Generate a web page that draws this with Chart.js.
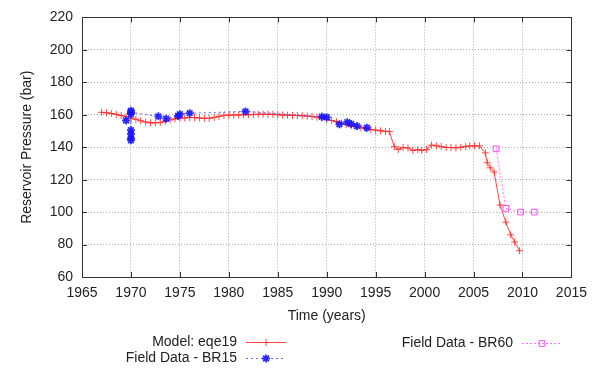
<!DOCTYPE html>
<html>
<head>
<meta charset="utf-8">
<script src="https://cdn.jsdelivr.net/npm/chart.js@4"></script>
<style>
  html, body { margin: 0; padding: 0; background: #fff; }
  #wrap { width: 595px; height: 369px; }
</style>
</head>
<body>
<div id="wrap"><canvas id="chart"></canvas></div>
<script>
// Model: eqe19 (red, + markers)
const modelYears = [
    1967.0, 1967.5, 1968.0, 1968.5, 1969.0, 1969.5, 1970.0, 1970.5, 1971.0, 1971.5,
    1972.0, 1972.5, 1973.0, 1973.5, 1974.0, 1974.5, 1975.0, 1975.5, 1976.0, 1976.5,
    1977.0, 1977.5, 1978.0, 1978.5, 1979.0, 1979.5, 1980.0, 1980.5, 1981.0, 1981.5,
    1982.0, 1982.5, 1983.0, 1983.5, 1984.0, 1984.5, 1985.0, 1985.5, 1986.0, 1986.5,
    1987.0, 1987.5, 1988.0, 1988.5, 1989.0, 1989.5, 1990.0, 1990.5, 1991.0, 1991.5,
    1992.0, 1992.5, 1993.0, 1993.5, 1994.0, 1994.5, 1995.0, 1995.5, 1996.0, 1996.4,
    1996.9, 1997.3, 1997.8, 1998.3, 1998.8, 1999.3, 1999.7, 2000.2, 2000.7, 2001.2,
    2001.7, 2002.2, 2002.7, 2003.2, 2003.7, 2004.2, 2004.6, 2005.1, 2005.6, 2006.2,
    2006.4, 2006.7, 2007.1, 2007.7, 2008.3, 2008.8, 2009.2, 2009.7
];
const modelPressure = [
    161.5, 161.2, 160.8, 160.2, 159.5, 158.8, 158.0, 157.2, 156.3, 155.5,
    155.0, 155.0, 155.3, 156.0, 156.8, 157.5, 158.0, 158.0, 158.3, 158.3,
    158.0, 157.8, 157.8, 158.3, 159.0, 159.6, 159.8, 159.8, 159.9, 160.0,
    160.0, 160.2, 160.3, 160.3, 160.3, 160.2, 160.0, 159.8, 159.7, 159.6,
    159.5, 159.4, 159.2, 158.9, 158.5, 158.0, 157.3, 156.5, 155.6, 154.8,
    154.0, 153.3, 152.6, 152.0, 151.5, 151.0, 150.5, 150.1, 149.8, 149.6,
    140.3, 138.6, 139.8, 139.5, 138.0, 138.5, 138.0, 138.6, 141.3, 140.8,
    140.4, 139.8, 139.8, 139.6, 140.0, 140.4, 140.8, 140.8, 140.8, 136.5,
    130.4, 127.3, 124.7, 104.4, 93.8, 86.0, 81.6, 76.2
];

// Field Data - BR15 (blue, * markers)
const br15Years = [
    1969.5, 1970.0, 1970.0, 1970.0, 1970.0, 1970.0, 1970.0, 1970.0, 1972.8, 1973.6,
    1974.8, 1975.0, 1976.0, 1981.7, 1989.5, 1990.0, 1991.3, 1992.1, 1992.5, 1993.1,
    1994.1
];
const br15Pressure = [
    156.5, 160.5, 150.5, 148.0, 145.5, 144.3, 162.5, 161.5, 159.0, 157.6,
    159.3, 160.3, 161.0, 162.0, 158.8, 158.5, 154.2, 155.4, 154.3, 153.0,
    152.0
];

// Field Data - BR60 (magenta, open squares)
const br60Years = [2007.3, 2008.3, 2009.8, 2011.2];
const br60Pressure = [139.0, 102.3, 100.0, 100.0];

const xTicksMin = 1965, xTicksMax = 2015, xStep = 5;
const yTicksMin = 60, yTicksMax = 220, yStep = 20;

const FONT = 'Liberation Sans, Arial, Helvetica, sans-serif';

function toPoints(xs, ys) {
    return xs.map((x, i) => ({ x: x, y: ys[i] }));
}

// gnuplot style: closed frame, inward ticks, legend with text before sample
const framePlugin = {
    id: 'frame',
    afterDraw(chart) {
        const ctx = chart.ctx;
        const a = chart.chartArea;
        const xs = chart.scales.x, ys = chart.scales.y;
        ctx.save();
        ctx.strokeStyle = '#333';
        ctx.lineWidth = 1;
        ctx.strokeRect(Math.round(a.left) + 0.5, Math.round(a.top) + 0.5,
            Math.round(a.right - a.left), Math.round(a.bottom - a.top));
        ctx.beginPath();
        xs.ticks.forEach(t => {
            const px = Math.round(xs.getPixelForValue(t.value)) + 0.5;
            ctx.moveTo(px, a.bottom); ctx.lineTo(px, a.bottom - 5);
            ctx.moveTo(px, a.top); ctx.lineTo(px, a.top + 5);
        });
        ys.ticks.forEach(t => {
            const py = Math.round(ys.getPixelForValue(t.value)) + 0.5;
            ctx.moveTo(a.left, py); ctx.lineTo(a.left + 5, py);
            ctx.moveTo(a.right, py); ctx.lineTo(a.right - 5, py);
        });
        ctx.stroke();

        // legend
        const items = [
            { ds: 0, textRight: 237, y: 342, x0: 246, x1: 286 },
            { ds: 1, textRight: 237, y: 358, x0: 246, x1: 286 },
            { ds: 2, textRight: 513, y: 343, x0: 522, x1: 562 }
        ];
        ctx.font = '14px ' + FONT;
        ctx.textBaseline = 'middle';
        ctx.textAlign = 'right';
        items.forEach(it => {
            const d = chart.data.datasets[it.ds];
            ctx.fillStyle = '#222';
            ctx.fillText(d.label, it.textRight, it.y);
            ctx.save();
            ctx.strokeStyle = d.borderColor;
            ctx.lineWidth = d.borderWidth;
            ctx.setLineDash(d.borderDash || []);
            ctx.beginPath();
            ctx.moveTo(it.x0, it.y + 0.5); ctx.lineTo(it.x1, it.y + 0.5);
            ctx.stroke();
            ctx.setLineDash([]);
            ctx.strokeStyle = d.pointBorderColor;
            ctx.fillStyle = d.backgroundColor;
            ctx.lineWidth = d.pointBorderWidth;
            Chart.helpers.drawPoint(ctx, {
                pointStyle: d.pointStyle,
                radius: d.pointRadius,
                borderWidth: d.pointBorderWidth,
                rotation: 0
            }, (it.x0 + it.x1) / 2, it.y + 0.5);
            ctx.restore();
        });
        ctx.restore();
    }
};

const datasets = [
    {
        label: 'Model: eqe19',
        data: toPoints(modelYears, modelPressure),
        borderColor: 'rgba(255,40,40,0.85)',
        backgroundColor: 'rgba(255,40,40,0.85)',
        borderWidth: 1,
        pointStyle: 'cross',
        pointRadius: 3.5,
        pointBorderWidth: 1,
        pointBorderColor: 'rgba(255,40,40,0.85)',
        order: 3
    },
    {
        label: 'Field Data - BR15',
        data: toPoints(br15Years, br15Pressure),
        borderColor: 'rgba(60,60,255,0.8)',
        backgroundColor: 'rgba(60,60,255,0.8)',
        borderWidth: 1,
        borderDash: [2, 3],
        pointStyle: 'star',
        pointRadius: 4,
        pointBorderWidth: 1.8,
        pointBorderColor: 'rgba(20,20,255,0.9)',
        order: 1
    },
    {
        label: 'Field Data - BR60',
        data: toPoints(br60Years, br60Pressure),
        borderColor: 'rgba(255,80,255,0.8)',
        backgroundColor: 'rgba(255,255,255,0)',
        borderWidth: 1,
        borderDash: [2, 2],
        pointStyle: 'rect',
        pointRadius: 4,
        pointBorderWidth: 1,
        pointBorderColor: 'rgb(255,70,255)',
        order: 2
    }
];

new Chart(document.getElementById('chart'), {
    type: 'line',
    data: { datasets: datasets },
    options: {
        responsive: true,
        maintainAspectRatio: false,
        animation: false,
        layout: { padding: { left: 0, right: 23, top: 15, bottom: 44 } },
        plugins: {
            legend: { display: false },
            tooltip: { enabled: false }
        },
        elements: { line: { tension: 0 } },
        scales: {
            x: {
                type: 'linear',
                min: xTicksMin,
                max: xTicksMax,
                border: { display: false, dash: [1, 2] },
                grid: { color: '#a8a8a8', drawTicks: false },
                ticks: {
                    stepSize: xStep,
                    padding: 8,
                    color: '#222',
                    font: { family: FONT, size: 14 },
                    callback: v => String(v)
                },
                title: {
                    display: true,
                    text: 'Time (years)',
                    color: '#222',
                    font: { family: FONT, size: 14 },
                    padding: { top: 4, bottom: 0 }
                },
                afterFit: s => { s.height = 48; }
            },
            y: {
                min: yTicksMin,
                max: yTicksMax,
                border: { display: false, dash: [1, 2] },
                grid: { color: '#a8a8a8', drawTicks: false },
                ticks: {
                    stepSize: yStep,
                    padding: 9,
                    color: '#222',
                    font: { family: FONT, size: 14 }
                },
                title: {
                    display: true,
                    text: 'Reservoir Pressure (bar)',
                    color: '#222',
                    font: { family: FONT, size: 14 },
                    padding: { top: 19, bottom: 0 }
                },
                afterFit: s => { s.width = 82; }
            }
        }
    },
    plugins: [framePlugin]
});
</script>
</body>
</html>
